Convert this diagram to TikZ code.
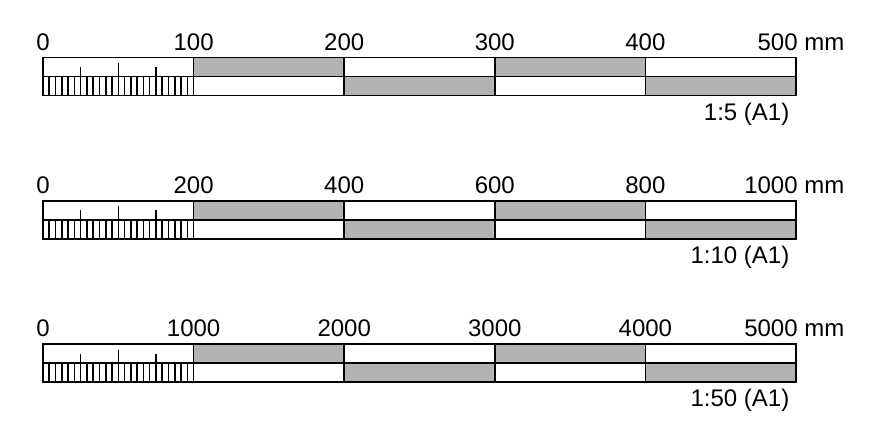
\documentclass[tikz,border=0pt]{standalone}
\usepackage{fontspec}
\setmainfont{Liberation Sans}
\usetikzlibrary{calc}
\usetikzlibrary{positioning}

\tikzset{
  barline/.style={line width=1.7pt, draw=black},
  tickline/.style={line width=1.6pt, draw=black},
  shaded/.style={fill=black!30},
  numlabel/.style={anchor=base, inner sep=0pt, font=\fontsize{24}{28}\selectfont},
  unitlabel/.style={anchor=base east, inner sep=0pt, font=\fontsize{24}{28}\selectfont},
}

\begin{document}
\begin{tikzpicture}[x=1pt,y=-1pt]
  \useasboundingbox (0,0) rectangle (894,429);
  \foreach \r/\a/\b/\c/\d/\e/\s in {0/100/200/300/400/500/5, 1/200/400/600/800/1000/10, 2/1000/2000/3000/4000/5000/50}{
    \pgfmathsetmacro{\yo}{143.3*\r}
    \begin{scope}[shift={(0,\yo)}]
      % grey fields, top and bottom row
      \fill[shaded] (193.6,57.5) rectangle (344.2,76.5);
      \fill[shaded] (494.8,57.5) rectangle (645.4,76.5);
      \fill[shaded] (344.2,76.5) rectangle (494.8,95.5);
      \fill[shaded] (645.4,76.5) rectangle (796,95.5);
      % frame
      \draw[barline] (43,57.5) rectangle (796,95.5);
      \draw[barline] (43,76.5) -- (796,76.5);
      \foreach \i in {1,...,4}
        \draw[barline] (43+150.6*\i,57.5) -- (43+150.6*\i,95.5);
      % fine divisions of the first field
      \foreach \t in {1,...,23}
        \draw[tickline] (43+6.275*\t,76.5) -- (43+6.275*\t,95.5);
      \draw[tickline] (43+6.275*6,67) -- (43+6.275*6,76.5);
      \draw[tickline] (43+6.275*12,63) -- (43+6.275*12,76.5);
      \draw[tickline] (43+6.275*18,67) -- (43+6.275*18,76.5);
      % numbers
      \foreach \v [count=\k from 0] in {0,\a,\b,\c,\d}
        \node[numlabel] (num\r\k) at (43+150.6*\k,50) {\v};
      \node[unitlabel] (unit\r) at (844.5,50) {\e{} mm};
      \node[unitlabel] (ratio\r) at (789.5,120) {1:\s{} (A1)};
    \end{scope}
  }
\end{tikzpicture}
\end{document}
